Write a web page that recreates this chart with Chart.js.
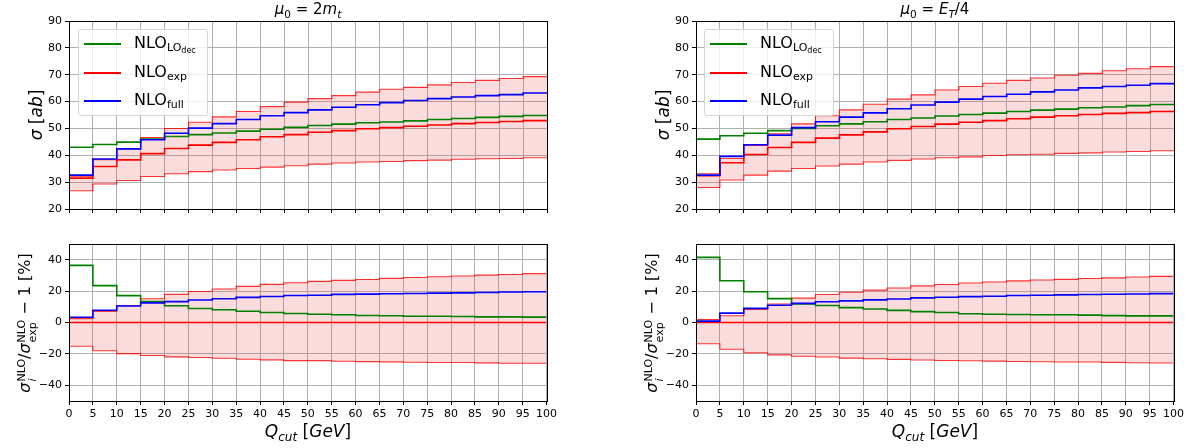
<!DOCTYPE html>
<html>
<head>
<meta charset="utf-8">
<script src="https://cdn.jsdelivr.net/npm/chart.js@4.4.1/dist/chart.umd.min.js"></script>
<style>
  html, body { margin: 0; padding: 0; background: #fff; }
  body { width: 1194px; height: 448px; position: relative; overflow: hidden; font-family: "DejaVu Sans", sans-serif; color: #000; }
  .box { position: absolute; }
  .txt { position: absolute; white-space: nowrap; line-height: 1; }
  .mid { transform: translate(-50%, -50%); }
  .rot { transform: translate(-50%, -50%) rotate(-90deg); }
  .ss { display: inline-flex; flex-direction: column; font-size: 11px; line-height: 1.0; vertical-align: 0.42em; margin-left: 1px; }
  .legend { position: absolute; width: 130px; height: 87px; box-sizing: border-box; border: 1px solid #d6d6d6; border-radius: 3px; background: rgba(255,255,255,0.8); z-index: 5; }
  .row { position: absolute; left: 0; height: 0; }
  .sw { position: absolute; left: 5px; width: 37px; height: 1.6px; top: -0.8px; }
  .lab { position: absolute; left: 55px; top: -9px; font-size: 16px; white-space: nowrap; line-height: 1; }
  .lab sub { font-size: 11px; vertical-align: -0.25em; }
  .lab sub sub { font-size: 8px; vertical-align: -0.2em; }
</style>
</head>
<body>

<div class="box" style="left:0;top:0;"><canvas id="topL" width="560" height="225"></canvas></div>
<div class="box" style="left:0;top:230px;"><canvas id="botL" width="560" height="218"></canvas></div>
<div class="box" style="left:627px;top:0;"><canvas id="topR" width="560" height="225"></canvas></div>
<div class="box" style="left:627px;top:230px;"><canvas id="botR" width="560" height="218"></canvas></div>

<!-- titles -->
<div class="txt mid" style="left:308px;top:11px;font-size:15px;"><i>μ</i><sub style="font-size:10.5px">0</sub> = 2<i>m</i><sub style="font-size:10.5px"><i>t</i></sub></div>
<div class="txt mid" style="left:935px;top:11px;font-size:15px;"><i>μ</i><sub style="font-size:10.5px">0</sub> = <i>E</i><sub style="font-size:10.5px"><i>T</i></sub>/4</div>

<!-- y labels -->
<div class="txt rot" style="left:36px;top:115px;font-size:17px;"><i>σ</i> [<i>ab</i>]</div>
<div class="txt rot" style="left:663px;top:115px;font-size:17px;"><i>σ</i> [<i>ab</i>]</div>
<div class="txt rot" style="left:27px;top:323px;font-size:16px;"><i>σ</i><span class="ss"><span>NLO</span><span><i>i</i></span></span>/<i>σ</i><span class="ss"><span>NLO</span><span>exp</span></span> − 1 [%]</div>
<div class="txt rot" style="left:654px;top:323px;font-size:16px;"><i>σ</i><span class="ss"><span>NLO</span><span><i>i</i></span></span>/<i>σ</i><span class="ss"><span>NLO</span><span>exp</span></span> − 1 [%]</div>

<!-- x labels -->
<div class="txt mid" style="left:308px;top:433px;font-size:17px;"><i>Q</i><sub style="font-size:12px"><i>cut</i></sub> [<i>GeV</i>]</div>
<div class="txt mid" style="left:935px;top:433px;font-size:17px;"><i>Q</i><sub style="font-size:12px"><i>cut</i></sub> [<i>GeV</i>]</div>

<!-- legends -->
<div class="legend" style="left:78px;top:29px;">
  <div class="row" style="top:14px;"><span class="sw" style="background:#008000"></span><span class="lab">NLO<sub>LO<sub>dec</sub></sub></span></div>
  <div class="row" style="top:43px;"><span class="sw" style="background:#ff0000"></span><span class="lab">NLO<sub>exp</sub></span></div>
  <div class="row" style="top:71px;"><span class="sw" style="background:#0000ff"></span><span class="lab">NLO<sub>full</sub></span></div>
</div>
<div class="legend" style="left:704px;top:29px;">
  <div class="row" style="top:14px;"><span class="sw" style="background:#008000"></span><span class="lab">NLO<sub>LO<sub>dec</sub></sub></span></div>
  <div class="row" style="top:43px;"><span class="sw" style="background:#ff0000"></span><span class="lab">NLO<sub>exp</sub></span></div>
  <div class="row" style="top:71px;"><span class="sw" style="background:#0000ff"></span><span class="lab">NLO<sub>full</sub></span></div>
</div>

<script>
// bin edges of Q_cut [GeV]
const binEdges = [0, 5, 10, 15, 20, 25, 30, 35, 40, 45, 50, 55, 60, 65, 70, 75, 80, 85, 90, 95, 100];
const qTicks = [0, 5, 10, 15, 20, 25, 30, 35, 40, 45, 50, 55, 60, 65, 70, 75, 80, 85, 90, 95, 100];
const sigmaTicks = [20, 30, 40, 50, 60, 70, 80, 90];
const ratioTicks = [-40, -20, 0, 20, 40];

// mu0 = 2 m_t : sigma [ab]
const expL  = [31.5, 35.8, 38.3, 40.6, 42.5, 43.8, 44.8, 45.8, 46.9, 47.7, 48.6, 49.2, 49.9, 50.3, 50.8, 51.3, 51.8, 52.2, 52.6, 52.9];
const upL   = [32.2, 38.4, 42.4, 46.6, 50.0, 52.3, 54.3, 56.3, 58.1, 59.8, 61.1, 62.2, 63.5, 64.6, 65.3, 66.2, 67.1, 67.9, 68.6, 69.3];
const loL   = [26.8, 29.3, 30.6, 32.1, 33.1, 33.9, 34.5, 35.1, 35.6, 36.1, 36.7, 37.1, 37.5, 37.7, 38.0, 38.2, 38.5, 38.7, 38.8, 39.1];
const decL  = [43.0, 44.0, 44.9, 46.0, 47.0, 47.7, 48.3, 49.0, 49.7, 50.4, 51.1, 51.6, 52.1, 52.4, 52.8, 53.3, 53.7, 54.1, 54.5, 54.8];
const fullL = [32.6, 38.6, 42.4, 45.8, 48.2, 50.1, 51.8, 53.3, 54.7, 55.9, 56.9, 57.9, 58.8, 59.6, 60.4, 61.1, 61.7, 62.2, 62.6, 63.2];

// mu0 = 2 m_t : ratio to NLO_exp [%]
const rExpL  = [0, 0, 0, 0, 0, 0, 0, 0, 0, 0, 0, 0, 0, 0, 0, 0, 0, 0, 0, 0];
const rUpL   = [2.5, 7.0, 10.8, 15.1, 17.9, 19.7, 21.3, 23.0, 24.3, 25.3, 26.2, 26.8, 27.4, 28.1, 28.7, 29.1, 29.6, 30.2, 30.6, 31.1];
const rLoL   = [-15.1, -18.0, -19.8, -21.0, -21.9, -22.3, -22.8, -23.4, -23.8, -24.3, -24.3, -24.7, -24.9, -25.1, -25.3, -25.5, -25.5, -25.7, -26.0, -26.0];
const rDecL  = [36.4, 23.5, 17.1, 13.4, 10.7, 8.9, 8.1, 7.2, 6.4, 5.7, 5.3, 4.9, 4.5, 4.3, 4.0, 4.0, 3.8, 3.6, 3.6, 3.4];
const rFullL = [3.3, 7.8, 10.5, 12.5, 13.3, 14.3, 15.1, 16.0, 16.6, 17.2, 17.4, 17.9, 18.1, 18.3, 18.5, 18.7, 18.9, 19.1, 19.4, 19.6];

// mu0 = E_T/4 : sigma [ab]
const expR  = [32.4, 37.2, 40.3, 42.9, 44.8, 46.4, 47.6, 48.7, 49.9, 50.7, 51.6, 52.3, 52.9, 53.6, 54.2, 54.7, 55.2, 55.6, 55.9, 56.3];
const upR   = [33.1, 38.8, 43.7, 48.0, 51.7, 54.7, 56.9, 59.0, 60.9, 62.5, 64.3, 65.6, 66.8, 67.9, 68.8, 69.8, 70.5, 71.5, 72.2, 73.0];
const loR   = [28.0, 30.8, 32.6, 34.1, 35.1, 36.0, 36.7, 37.5, 38.1, 38.6, 39.1, 39.4, 39.9, 40.2, 40.4, 40.7, 40.9, 41.2, 41.4, 41.7];
const decR  = [46.0, 47.3, 48.2, 49.2, 50.0, 51.0, 51.7, 52.5, 53.3, 53.9, 54.6, 55.2, 55.7, 56.3, 56.8, 57.2, 57.7, 58.0, 58.5, 58.9];
const fullR = [32.6, 39.6, 43.9, 47.5, 50.3, 52.5, 54.2, 55.8, 57.3, 58.7, 59.8, 60.9, 61.9, 62.7, 63.6, 64.3, 65.1, 65.6, 66.1, 66.7];

// mu0 = E_T/4 : ratio to NLO_exp [%]
const rExpR  = [0, 0, 0, 0, 0, 0, 0, 0, 0, 0, 0, 0, 0, 0, 0, 0, 0, 0, 0, 0];
const rUpR   = [1.9, 4.3, 8.3, 11.8, 15.5, 17.8, 19.3, 20.6, 22.0, 23.3, 24.2, 25.2, 25.8, 26.5, 27.1, 27.5, 28.0, 28.4, 29.0, 29.4];
const rLoR   = [-13.5, -17.0, -19.3, -20.6, -21.5, -22.0, -22.7, -23.1, -23.5, -23.9, -24.2, -24.4, -24.6, -24.8, -25.0, -25.2, -25.2, -25.4, -25.6, -25.8];
const rDecR  = [41.5, 26.6, 19.6, 15.2, 11.8, 10.8, 9.5, 8.6, 7.7, 6.9, 6.4, 5.6, 5.3, 5.1, 4.9, 4.9, 4.7, 4.4, 4.2, 4.2];
const rFullR = [0.9, 6.0, 9.0, 11.0, 12.2, 13.2, 13.8, 14.4, 15.0, 15.7, 16.1, 16.5, 16.7, 17.2, 17.4, 17.6, 17.8, 18.0, 18.2, 18.4];

Chart.defaults.font.family = 'DejaVu Sans';
Chart.defaults.font.size = 11;
Chart.defaults.color = '#000';

// histogram-style points: each value holds from its bin start to the next edge
function steps(vals) {
    const pts = vals.map((v, i) => ({ x: binEdges[i], y: v }));
    pts.push({ x: binEdges[vals.length], y: vals[vals.length - 1] });
    return pts;
}

function line(vals, color, width, extra) {
    return Object.assign({
        data: steps(vals),
        borderColor: color,
        borderWidth: width,
        stepped: true,
        pointRadius: 0,
        fill: false,
    }, extra || {});
}

// black frame on all four sides like matplotlib spines
const frame = {
    id: 'frame',
    afterDraw(chart) {
        const a = chart.chartArea, ctx = chart.ctx;
        ctx.save();
        ctx.strokeStyle = '#000';
        ctx.lineWidth = 1;
        ctx.strokeRect(Math.round(a.left) + 0.5, Math.round(a.top) + 0.5,
            Math.round(a.right - a.left), Math.round(a.bottom - a.top));
        ctx.restore();
    }
};

function makeChart(id, s, yMin, yMax, yTicks, showX, padTop, xHeight) {
    const band = 'rgba(235, 60, 60, 0.18)';
    const edge = 'rgba(255, 0, 0, 0.8)';
    new Chart(document.getElementById(id).getContext('2d'), {
        type: 'line',
        data: {
            datasets: [
                line(s.full, '#0000ff', 1.6),
                line(s.dec, '#008000', 1.6),
                line(s.exp, '#ff0000', 1.6),
                line(s.up, edge, 1.1, { fill: { target: '+1' }, backgroundColor: band }),
                line(s.lo, edge, 1.1),
            ]
        },
        options: {
            responsive: false,
            animation: false,
            layout: { padding: { top: padTop, right: 13, left: 0, bottom: 0 } },
            plugins: { legend: { display: false }, tooltip: { enabled: false } },
            scales: {
                x: {
                    type: 'linear', min: 0, max: 100,
                    afterBuildTicks: sc => { sc.ticks = qTicks.map(v => ({ value: v })); },
                    afterFit: sc => { sc.height = xHeight; },
                    grid: { color: '#b0b0b0', lineWidth: 1, tickColor: '#000', tickLength: 4, drawTicks: true },
                    border: { color: '#000', width: 1 },
                    ticks: { display: showX, autoSkip: false, maxRotation: 0, padding: 3, color: '#000' }
                },
                y: {
                    min: yMin, max: yMax,
                    afterBuildTicks: sc => { sc.ticks = yTicks.map(v => ({ value: v })); },
                    afterFit: sc => { sc.width = 69; },
                    grid: { color: '#b0b0b0', lineWidth: 1, tickColor: '#000', tickLength: 4, drawTicks: true },
                    border: { color: '#000', width: 1 },
                    ticks: { padding: 3, color: '#000', callback: v => v < 0 ? '\u2212' + Math.abs(v) : v }
                }
            }
        },
        plugins: [frame]
    });
}

makeChart('topL', { full: fullL, dec: decL, exp: expL, up: upL, lo: loL }, 20, 90, sigmaTicks, false, 21, 16);
makeChart('botL', { full: rFullL, dec: rDecL, exp: rExpL, up: rUpL, lo: rLoL }, -50, 50, ratioTicks, true, 14, 47);
makeChart('topR', { full: fullR, dec: decR, exp: expR, up: upR, lo: loR }, 20, 90, sigmaTicks, false, 21, 16);
makeChart('botR', { full: rFullR, dec: rDecR, exp: rExpR, up: rUpR, lo: rLoR }, -50, 50, ratioTicks, true, 14, 47);
</script>
</body>
</html>
